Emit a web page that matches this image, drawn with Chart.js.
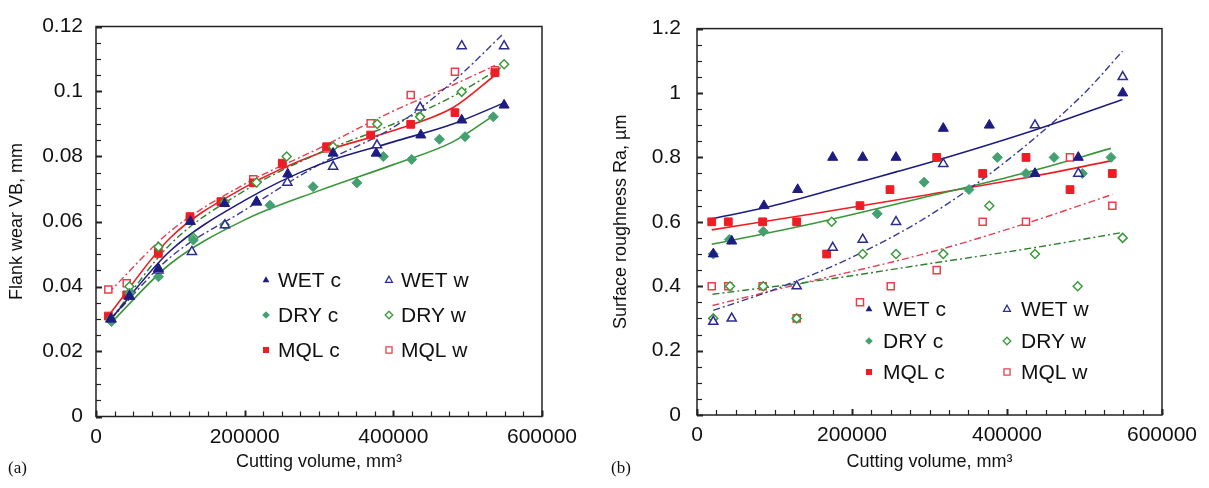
<!DOCTYPE html>
<html><head><meta charset="utf-8">
<script src="https://cdn.jsdelivr.net/npm/chart.js@4.4.0/dist/chart.umd.min.js"></script>
<style>
html,body{margin:0;padding:0;background:#fff;width:1209px;height:488px;overflow:hidden;}
canvas{position:absolute;top:0;}
#ca{left:0}
#cb{left:600px}
.tag{position:absolute;font-family:"Liberation Serif","DejaVu Serif",serif;font-size:17px;color:#111;}
</style></head><body>
<canvas id="ca" width="600" height="488"></canvas>
<canvas id="cb" width="609" height="488"></canvas>
<div class="tag" style="left:8px;top:458px">(a)</div>
<div class="tag" style="left:611px;top:458px">(b)</div>
<script>
// ---------- Labels ----------
const seriesLabels = ['WET c', 'WET w', 'DRY c', 'DRY w', 'MQL c', 'MQL w'];
const xTickValues = [0, 200000, 400000, 600000];

// ---------- (a) Flank wear VB, mm ----------
const a_wetC_x = [20000, 45000, 84000, 127000, 173000, 216000, 258000, 319000, 377000, 437000, 492000, 549000];
const a_wetC_y = [0.030, 0.037, 0.0455, 0.060, 0.0655, 0.066, 0.0746, 0.081, 0.081, 0.0866, 0.0912, 0.0958];
const a_wetW_x = [20000, 45000, 84000, 129000, 173500, 216000, 257400, 319000, 378000, 436000, 492000, 549000];
const a_wetW_y = [0.030, 0.037, 0.045, 0.0507, 0.0589, 0.066, 0.072, 0.0769, 0.0835, 0.0951, 0.114, 0.114];
const a_dryC_x = [21000, 45000, 84000, 131000, 173000, 234000, 292000, 351000, 386500, 424700, 462000, 496400, 534500];
const a_dryC_y = [0.0292, 0.038, 0.043, 0.0543, 0.059, 0.065, 0.0707, 0.0719, 0.080, 0.0791, 0.0853, 0.0861, 0.0922];
const a_dryW_x = [20000, 45000, 84000, 131000, 173000, 216000, 256500, 319000, 378400, 436000, 492000, 549000];
const a_dryW_y = [0.030, 0.040, 0.0522, 0.055, 0.066, 0.072, 0.080, 0.083, 0.090, 0.0922, 0.0999, 0.1084];
const a_mqlC_x = [16600, 41300, 83800, 126500, 168200, 211600, 250600, 310300, 369500, 423400, 482900, 536800];
const a_mqlC_y = [0.0309, 0.0374, 0.0502, 0.0615, 0.0661, 0.0719, 0.0777, 0.083, 0.0866, 0.0899, 0.0935, 0.1058];
const a_mqlW_x = [16600, 41300, 83800, 126500, 168200, 211600, 250600, 310300, 369500, 423400, 482900, 536800];
const a_mqlW_y = [0.0391, 0.041, 0.051, 0.0605, 0.066, 0.073, 0.078, 0.0825, 0.0902, 0.0989, 0.1061, 0.1065];
// trend lines
const a_wetC_tx = [20000, 100000, 200000, 300000, 400000, 480000, 549000];
const a_wetC_ty = [0.030, 0.051, 0.0665, 0.0775, 0.0845, 0.090, 0.0965];
const a_wetW_tx = [20000, 100000, 200000, 300000, 400000, 480000, 549000];
const a_wetW_ty = [0.030, 0.049, 0.0635, 0.0775, 0.089, 0.103, 0.118];
const a_dryC_tx = [21000, 100000, 200000, 300000, 400000, 480000, 534500];
const a_dryC_ty = [0.029, 0.047, 0.0605, 0.0695, 0.0775, 0.0845, 0.0925];
const a_dryW_tx = [20000, 100000, 200000, 300000, 400000, 480000, 549000];
const a_dryW_ty = [0.030, 0.053, 0.0695, 0.081, 0.090, 0.0985, 0.108];
const a_mqlC_tx = [16600, 100000, 200000, 300000, 400000, 480000, 536800];
const a_mqlC_ty = [0.031, 0.055, 0.0705, 0.081, 0.088, 0.095, 0.105];
const a_mqlW_tx = [16600, 100000, 200000, 300000, 400000, 480000, 536800];
const a_mqlW_ty = [0.038, 0.057, 0.0715, 0.0825, 0.094, 0.102, 0.108];
const a_yTicks = [0, 0.02, 0.04, 0.06, 0.08, 0.1, 0.12];

// ---------- (b) Surface roughness Ra, µm ----------
const b_wetC_x = [21000, 44800, 86400, 129900, 175100, 213800, 256800, 317800, 377200, 436100, 492000, 549300];
const b_wetC_y = [0.50, 0.54, 0.65, 0.70, 0.80, 0.80, 0.80, 0.89, 0.90, 0.75, 0.80, 1.00];
const b_wetW_x = [21000, 44800, 128600, 175100, 213800, 256800, 317800, 436100, 492000, 549300];
const b_wetW_y = [0.29, 0.30, 0.40, 0.52, 0.545, 0.60, 0.78, 0.90, 0.75, 1.05];
const b_dryC_x = [21000, 41700, 85500, 232600, 293000, 351000, 387500, 424500, 460700, 497200, 534200];
const b_dryC_y = [0.50, 0.545, 0.57, 0.625, 0.723, 0.70, 0.80, 0.75, 0.80, 0.75, 0.80];
const b_dryW_x = [21000, 42600, 85500, 128600, 173800, 213800, 256800, 317800, 377200, 436100, 491200, 549300];
const b_dryW_y = [0.30, 0.40, 0.40, 0.30, 0.60, 0.50, 0.50, 0.50, 0.65, 0.50, 0.40, 0.55];
const b_mqlC_x = [19000, 40400, 84700, 128600, 167300, 210300, 249000, 309300, 368600, 424500, 481300, 535900];
const b_mqlC_y = [0.60, 0.60, 0.60, 0.60, 0.50, 0.65, 0.70, 0.80, 0.75, 0.80, 0.70, 0.75];
const b_mqlW_x = [19000, 40400, 84700, 128600, 210300, 250000, 309300, 368600, 424500, 481300, 535900];
const b_mqlW_y = [0.40, 0.40, 0.40, 0.30, 0.35, 0.40, 0.45, 0.60, 0.60, 0.80, 0.65];
// trend lines
const b_wetC_tx = [20000, 90000, 175000, 257000, 300000, 436000, 549000];
const b_wetC_ty = [0.61, 0.645, 0.70, 0.755, 0.784, 0.885, 0.98];
const b_wetW_tx = [21000, 100000, 200000, 300000, 400000, 500000, 549000];
const b_wetW_ty = [0.325, 0.39, 0.49, 0.62, 0.79, 1.0, 1.13];
const b_dryC_tx = [19000, 150000, 300000, 420000, 534000];
const b_dryC_ty = [0.53, 0.595, 0.68, 0.75, 0.828];
const b_dryW_tx = [20000, 150000, 300000, 436000, 549000];
const b_dryW_ty = [0.375, 0.415, 0.47, 0.52, 0.567];
const b_mqlC_tx = [19000, 150000, 300000, 420000, 536000];
const b_mqlC_ty = [0.575, 0.625, 0.685, 0.735, 0.79];
const b_mqlW_tx = [20000, 128600, 300000, 424500, 536000];
const b_mqlW_ty = [0.34, 0.405, 0.505, 0.595, 0.685];
const b_yTicks = [0, 0.2, 0.4, 0.6, 0.8, 1, 1.2];

// ---------- styles ----------
const NAVY = '#1d1d80', GREENF = '#44a070', GREENO = '#3a9a3a', GREENL = '#3b963b', RED = '#ee1d25', REDO = '#e8404a';
const FONT = '"Liberation Sans", Arial, sans-serif';
const styles = [
  {shape:'triangle', fill:true,  color:NAVY,   line:NAVY,   dash:[]},
  {shape:'triangle', fill:false, color:'#2c2c90', line:'#3a3a96', dash:[7,3,2,3]},
  {shape:'rectRot',  fill:true,  color:GREENF, line:GREENL, dash:[]},
  {shape:'rectRot',  fill:false, color:GREENO, line:'#2f7f2f', dash:[7,3,2,3]},
  {shape:'rect',     fill:true,  color:RED,    line:RED,    dash:[]},
  {shape:'rect',     fill:false, color:REDO,   line:'#e04050', dash:[7,3,2,3]},
];
const pts = (xs, ys) => xs.map((x, i) => ({x, y: ys[i]}));

function buildDatasets(data, trends) {
  const pointSets = data.map((d, i) => {
    const s = styles[i];
    const r = s.shape === 'rect' ? 5.5 : (s.shape === 'triangle' ? 5.8 : 5);
    return {
      label: seriesLabels[i], data: pts(d[0], d[1]), showLine: false,
      pointStyle: s.shape, pointRadius: s.fill ? r : r - 0.5, pointHoverRadius: r,
      pointBackgroundColor: s.fill ? s.color : '#ffffff', pointBorderColor: s.color,
      pointBorderWidth: s.fill ? 1 : 1.5, borderColor: s.color, backgroundColor: s.color
    };
  });
  const lineSets = trends.map((t, i) => {
    const s = styles[i];
    return {
      label: seriesLabels[i] + ' trend', data: pts(t[0], t[1]), showLine: true,
      borderColor: s.line, borderWidth: s.fill ? 1.6 : 1.4, borderDash: s.dash,
      pointRadius: 0, pointHoverRadius: 0, cubicInterpolationMode: 'monotone', fill: false
    };
  });
  return pointSets.concat(lineSets);
}

const frameTicks = {
  id: 'frameTicks',
  beforeDatasetsDraw(chart, args, o) {
    const {ctx, chartArea: a, scales: {x, y}} = chart;
    ctx.save();
    ctx.strokeStyle = '#222';
    ctx.lineWidth = 1.5;
    ctx.strokeRect(a.left, a.top, a.right - a.left, a.bottom - a.top);
    const nx = Math.round((x.max - x.min) / o.xMinor);
    for (let k = 0; k <= nx; k++) {
      const v = x.min + k * o.xMinor;
      const px = Math.round(x.getPixelForValue(v)) + 0.5;
      const major = (k % o.xPer) === 0;
      ctx.lineWidth = major ? 2 : 1.2;
      ctx.beginPath(); ctx.moveTo(px, a.bottom); ctx.lineTo(px, a.bottom - (major ? 6 : 5)); ctx.stroke();
    }
    const ny = Math.round((y.max - y.min) / o.yMinor);
    for (let k = 0; k <= ny; k++) {
      const v = y.min + k * o.yMinor;
      const py = Math.round(y.getPixelForValue(v)) + 0.5;
      const major = (k % o.yPer) === 0;
      ctx.lineWidth = major ? 2 : 1.2;
      ctx.beginPath(); ctx.moveTo(a.left, py); ctx.lineTo(a.left + (major ? 6 : 5), py); ctx.stroke();
    }
    ctx.restore();
  }
};

function drawShape(ctx, shape, x, y, r) {
  ctx.beginPath();
  if (shape === 'triangle') {
    ctx.moveTo(x, y - r); ctx.lineTo(x + r * 0.9, y + r * 0.6); ctx.lineTo(x - r * 0.9, y + r * 0.6); ctx.closePath();
  } else if (shape === 'rectRot') {
    ctx.moveTo(x, y - r); ctx.lineTo(x + r, y); ctx.lineTo(x, y + r); ctx.lineTo(x - r, y); ctx.closePath();
  } else {
    ctx.rect(x - r * 0.8, y - r * 0.8, r * 1.6, r * 1.6);
  }
}

const boxLegend = {
  id: 'boxLegend',
  afterDraw(chart, args, o) {
    const {ctx} = chart;
    ctx.save();
    ctx.font = o.fontSize + 'px ' + FONT;
    ctx.textBaseline = 'middle';
    ctx.textAlign = 'left';
    seriesLabels.forEach((lab, i) => {
      const s = styles[i];
      const cx = o.cols[i % 2], cy = o.rows[Math.floor(i / 2)];
      drawShape(ctx, s.shape, cx, cy, 3.8);
      if (s.fill) { ctx.fillStyle = s.color; ctx.fill(); }
      else { ctx.fillStyle = '#fff'; ctx.fill(); ctx.strokeStyle = s.color; ctx.lineWidth = 1.3; ctx.stroke(); }
      ctx.fillStyle = '#111';
      ctx.fillText(lab, cx + o.textGap, cy + 1);
    });
    ctx.restore();
  }
};

function makeChart(id, datasets, cfg) {
  return new Chart(document.getElementById(id), {
    type: 'scatter',
    data: {datasets},
    plugins: [frameTicks, boxLegend],
    options: {
      responsive: false, devicePixelRatio: 1, animation: false,
      layout: {autoPadding: false, padding: {left: 0, top: cfg.top, right: cfg.right, bottom: 0}},
      plugins: {
        legend: {display: false}, tooltip: {enabled: false}, title: {display: false},
        frameTicks: {xMinor: 25000, xPer: 8, yMinor: cfg.yMinor, yPer: 4},
        boxLegend: cfg.legend
      },
      scales: {
        x: {
          type: 'linear', min: 0, max: 600000,
          afterBuildTicks: s => { s.ticks = xTickValues.map(v => ({value: v})); },
          ticks: {font: {family: FONT, size: 21}, color: '#111', padding: 8, maxRotation: 0,
                  callback: v => String(v)},
          grid: {display: false, drawTicks: false}, border: {display: false},
          title: {display: true, text: 'Cutting volume, mm³', color: '#111',
                  font: {family: FONT, size: 18}, padding: {top: 0, bottom: 15}},
          afterFit: s => { s.height = cfg.xH; }
        },
        y: {
          type: 'linear', min: cfg.yTicks[0], max: cfg.yTicks[cfg.yTicks.length - 1],
          afterBuildTicks: s => { s.ticks = cfg.yTicks.map(v => ({value: v})); },
          ticks: {font: {family: FONT, size: 21}, color: '#111', padding: cfg.yPad,
                  callback: v => String(Number(v.toFixed(3)))},
          grid: {display: false, drawTicks: false}, border: {display: false},
          title: {display: true, text: cfg.yTitle, color: '#111',
                  font: {family: FONT, size: 18}, padding: {top: cfg.yTitlePad, bottom: 0}},
          afterFit: s => { s.width = cfg.yW; }
        }
      }
    }
  });
}

makeChart('ca', buildDatasets(
  [[a_wetC_x, a_wetC_y], [a_wetW_x, a_wetW_y], [a_dryC_x, a_dryC_y], [a_dryW_x, a_dryW_y], [a_mqlC_x, a_mqlC_y], [a_mqlW_x, a_mqlW_y]],
  [[a_wetC_tx, a_wetC_ty], [a_wetW_tx, a_wetW_ty], [a_dryC_tx, a_dryC_ty], [a_dryW_tx, a_dryW_ty], [a_mqlC_tx, a_mqlC_ty], [a_mqlW_tx, a_mqlW_ty]]),
  {top: 26.5, right: 58, xH: 71.5, yW: 96, yTicks: a_yTicks, yMinor: 0.005, yPad: 13,
   yTitle: 'Flank wear VB, mm', yTitlePad: 6,
   legend: {cols: [266, 389], rows: [280, 315, 350], textGap: 12, fontSize: 21}});

makeChart('cb', buildDatasets(
  [[b_wetC_x, b_wetC_y], [b_wetW_x, b_wetW_y], [b_dryC_x, b_dryC_y], [b_dryW_x, b_dryW_y], [b_mqlC_x, b_mqlC_y], [b_mqlW_x, b_mqlW_y]],
  [[b_wetC_tx, b_wetC_ty], [b_wetW_tx, b_wetW_ty], [b_dryC_tx, b_dryC_ty], [b_dryW_tx, b_dryW_ty], [b_mqlC_tx, b_mqlC_ty], [b_mqlW_tx, b_mqlW_ty]]),
  {top: 15, right: 47, xH: 73, yW: 97, yTicks: b_yTicks, yMinor: 0.05, yPad: 16,
   yTitle: 'Surface roughness Ra, µm', yTitlePad: 10,
   legend: {cols: [269, 407], rows: [309, 341, 372], textGap: 14, fontSize: 21}});
</script>
</body></html>
